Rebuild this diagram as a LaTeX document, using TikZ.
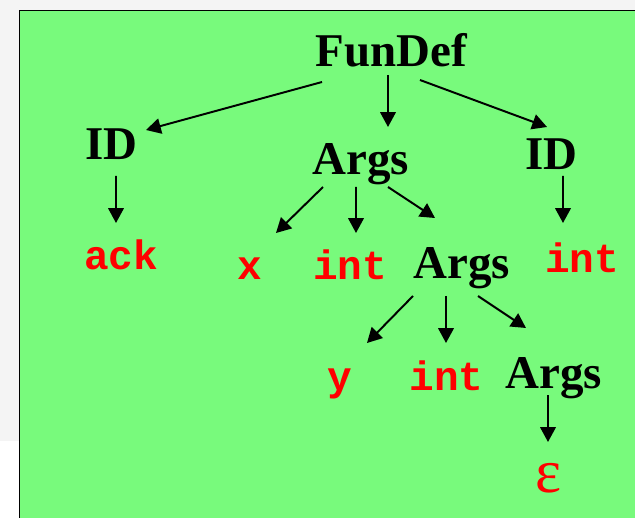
\documentclass[tikz,border=0pt]{standalone}
\usepackage{fontspec}
\setmainfont{Liberation Serif}
\setmonofont{Liberation Mono}
\usetikzlibrary{arrows.meta}
\definecolor{TreeGreen}{RGB}{120,250,124}
\definecolor{SlideGray}{RGB}{244,244,244}

\begin{document}
\begin{tikzpicture}[
	nt/.style={anchor=base,inner sep=0pt,font=\fontsize{33.4}{36}\selectfont\bfseries},
	tok/.style={anchor=base,inner sep=0pt,text=red,font=\fontsize{29.2}{32}\selectfont\ttfamily\bfseries},
	empty/.style={anchor=base,inner sep=0pt,text=red,font=\fontsize{44}{48}\selectfont},
	arr/.style={-{Triangle[length=10.5pt,width=11pt]},line width=1.4pt}]
\useasboundingbox (0,0) rectangle (15.875,12.925);
\clip (0,0) rectangle (15.875,12.925);
% slide background and the green panel
\fill[SlideGray] (0,1.9) rectangle (15.875,12.925);
\draw[line width=1.4pt,fill=TreeGreen] (0.4875,-1) rectangle (17,12.6625);
% tree nodes
\node[nt]    (fun)   at (9.775,11.25)  {FunDef};
\node[nt]    (idl)   at (2.7875,8.925) {ID};
\node[nt]    (args1) at (9.025,8.55)   {Args};
\node[nt]    (idr)   at (13.7875,8.675){ID};
\node[tok]   (ack)   at (3.025,6.175)  {ack};
\node[tok]   (x)     at (6.25,5.925)   {x};
\node[tok]   (int1)  at (8.75,5.925)   {int};
\node[nt]    (args2) at (11.5375,5.975){Args};
\node[tok]   (int2)  at (14.55,6.125)  {int};
\node[tok]   (y)     at (8.4875,3.175) {y};
\node[tok]   (int3)  at (11.1625,3.175){int};
\node[nt]    (args3) at (13.85,3.225)  {Args};
\node[empty] (eps)   at (13.7125,0.625){ε};
% edges, offsets from the base anchors
\foreach \a/\sa/\b/\sb in {
	fun/{-1.725,-0.375}/idl/{0.8625,0.75},
	fun/{-0.075,-0.2}/args1/{0.675,1.2},
	fun/{0.725,-0.325}/idr/{-0.1125,1.075},
	idl/{0.1125,-0.4}/ack/{-0.125,1.175},
	idr/{0.2875,-0.15}/int2/{-0.475,1.225},
	args1/{-0.95,-0.3}/x/{0.65,1.175},
	args1/{-0.125,-0.3}/int1/{0.15,1.175},
	args1/{0.675,-0.3}/args2/{-0.6625,1.5},
	args2/{-1.2125,-0.45}/y/{0.6875,1.175},
	args2/{-0.3875,-0.45}/int3/{-0.0125,1.175},
	args2/{0.4125,-0.45}/args3/{-0.7,1.5},
	args3/{-0.15,-0.175}/eps/{-0.0125,1.25}}
	\draw[arr] ([shift={(\sa)}]\a.base) -- ([shift={(\sb)}]\b.base);
\end{tikzpicture}
\end{document}
